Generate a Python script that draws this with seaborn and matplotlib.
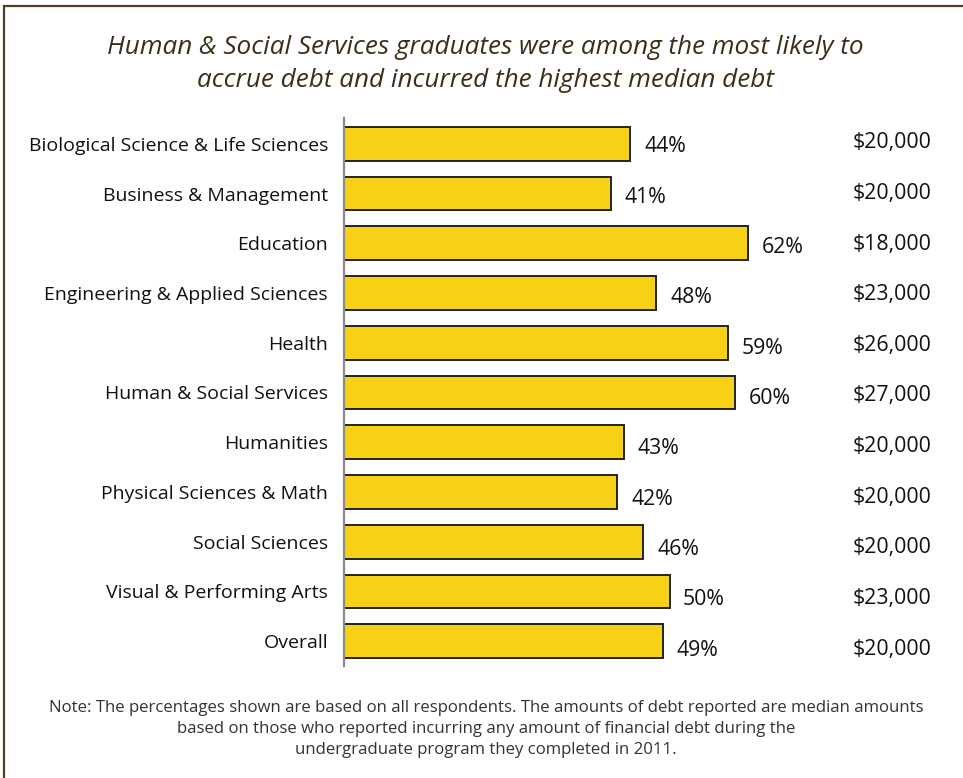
import matplotlib
matplotlib.use("Agg")
import matplotlib.pyplot as plt
import matplotlib.transforms as mtransforms
from matplotlib.patches import Rectangle
import pandas as pd
import seaborn as sns

# Fields of study, share of graduates with debt (%), and median debt
fields = [
    "Biological Science & Life Sciences",
    "Business & Management",
    "Education",
    "Engineering & Applied Sciences",
    "Health",
    "Human & Social Services",
    "Humanities",
    "Physical Sciences & Math",
    "Social Sciences",
    "Visual & Performing Arts",
    "Overall",
]
pct_with_debt = [44, 41, 62, 48, 59, 60, 43, 42, 46, 50, 49]
median_debt = ["$20,000", "$20,000", "$18,000", "$23,000", "$26,000", "$27,000",
               "$20,000", "$20,000", "$20,000", "$23,000", "$20,000"]

title = ("Human & Social Services graduates were among the most likely to\n"
         "accrue debt and incurred the highest median debt")
note = ("Note: The percentages shown are based on all respondents. The amounts of debt reported are median amounts\n"
        "based on those who reported incurring any amount of financial debt during the\n"
        "undergraduate program they completed in 2011.")

df = pd.DataFrame({"field": fields, "pct": pct_with_debt, "debt": median_debt})

sns.set_theme(style="white")
plt.rcParams["font.family"] = ["Open Sans", "DejaVu Sans"]

W, H = 963, 778
fig = plt.figure(figsize=(W / 100, H / 100), dpi=100)
fig.patch.set_facecolor("white")

# Plot area: left edge at the axis line, px-per-percent fixed by the layout
ax_left, ax_top, ax_bottom = 344, 118, 666
ax = fig.add_axes([ax_left / W, 1 - ax_bottom / H, (W - ax_left) / W, (ax_bottom - ax_top) / H])
sns.barplot(data=df, y="field", x="pct", orient="h", ax=ax,
            color="#F8D117", saturation=1, width=0.68,
            edgecolor="#222222", linewidth=1.4)

ax.set_xlim(0, (W - ax_left) / 6.51)
ax.set_ylim(len(fields) - 0.5, -0.52)
ax.set_xlabel("")
ax.set_ylabel("")
ax.set_xticks([])
ax.tick_params(axis="y", length=0, pad=11.5, labelsize=14.0, labelcolor="#111111")
for s in ["top", "right", "bottom"]:
    ax.spines[s].set_visible(False)
ax.spines["left"].set_color("#8a8a8a")
ax.spines["left"].set_linewidth(1.6)

# Percent labels beside each bar, median debt in a right-hand column
debt_tf = mtransforms.blended_transform_factory(fig.transFigure, ax.transData)
for i, (p, d) in enumerate(zip(pct_with_debt, median_debt)):
    ax.text(p + 2.1, i + 0.06 + i * 0.012, f"{p}%", va="center", ha="left",
            fontsize=15.3, color="#111111")
    ax.text(931 / W, i - 0.02 + i * 0.018, d, va="center", ha="right",
            fontsize=15.3, color="#111111", transform=debt_tf)

fig.text(485 / W, 1 - 64 / H, title, ha="center", va="center", style="italic",
         fontsize=18.8, color="#3b2e1a", linespacing=1.42)
fig.text(486 / W, 1 - 729 / H, note, ha="center", va="center",
         fontsize=12.1, color="#333333", linespacing=1.38)

# Frame around the graphic (runs off the right and bottom edges)
fig.patches.append(Rectangle((4 / W, -0.1), 1.2, 1.1 - 6 / H, transform=fig.transFigure,
                             fill=False, edgecolor="#4d3f26", linewidth=1.6))

fig.savefig("out.png", dpi=100, facecolor="white")
